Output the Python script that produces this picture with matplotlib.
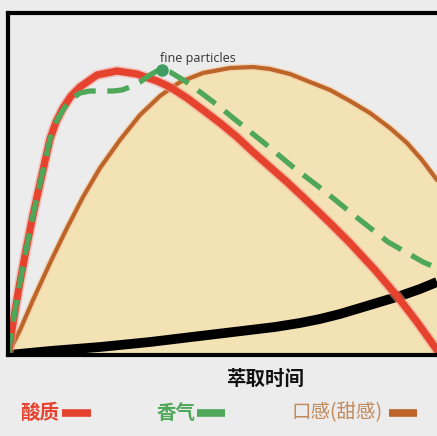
import matplotlib
matplotlib.use("Agg")
import matplotlib.pyplot as plt
from matplotlib.lines import Line2D

plt.rcParams['font.family'] = ['Noto Sans CJK SC', 'DejaVu Sans']

# extraction time (0-100) vs. intensity (0-100)
acid_x = [0, 0.93, 1.86, 2.80, 4.20, 5.83, 8.16, 9.79, 11.19, 12.82, 14.69, 16.78,
          20.75, 25.41, 30.07, 34.73, 37.76, 41.72, 45.45, 49.42, 53.38, 57.11,
          61.07, 65.03, 68.76, 75.06, 79.72, 85.55, 90.68, 95.34, 100]
acid_y = [0, 7.31, 14.62, 21.35, 30.70, 40.94, 54.09, 63.16, 68.13, 72.22, 75.73,
          78.36, 81.87, 83.04, 82.16, 80.12, 78.36, 75.15, 71.64, 67.84, 63.74,
          59.36, 54.97, 50.58, 46.20, 38.60, 32.75, 24.85, 17.25, 9.65, 1.46]

aroma_x = [0, 0.93, 1.86, 2.80, 4.20, 5.83, 8.16, 9.79, 11.19, 12.82, 14.45, 16.78,
           19.11, 21.45, 24.48, 26.57, 28.44, 30.77, 33.10, 34.73, 35.90, 37.76,
           41.26, 44.76, 48.48, 52.21, 55.94, 59.44, 66.43, 73.43, 80.89, 88.58,
           96.74, 100]
aroma_y = [0, 7.31, 14.62, 21.35, 30.70, 40.94, 54.09, 63.16, 68.13, 71.64, 74.56,
           76.61, 77.19, 77.19, 77.19, 77.49, 78.36, 79.82, 81.87, 83.04, 83.33,
           82.75, 80.12, 76.90, 73.39, 69.59, 65.79, 62.28, 54.97, 48.25, 40.64,
           33.04, 27.19, 25.44]

taste_x = [0, 1.40, 2.80, 5.83, 9.79, 13.52, 17.48, 21.45, 26.11, 30.77, 35.43,
           40.09, 45.45, 51.75, 57.11, 61.07, 65.73, 70.40, 75.06, 79.72, 84.38,
           89.04, 93.01, 96.50, 100]
taste_y = [0, 3.80, 7.31, 16.08, 26.90, 36.55, 46.20, 54.68, 62.87, 70.18, 75.73,
           79.82, 82.46, 83.92, 84.21, 83.63, 82.16, 79.82, 77.49, 74.27, 70.76,
           66.37, 61.99, 57.02, 51.17]

bitter_x = [0, 9.79, 21.45, 33.10, 44.76, 56.41, 62.24, 68.07, 72.73, 77.39,
            82.05, 86.71, 91.38, 96.04, 100]
bitter_y = [0, 1.17, 2.34, 3.80, 5.56, 7.31, 8.19, 9.36, 10.53, 11.99,
            13.74, 15.50, 17.25, 19.30, 21.35]

peak_x, peak_y = 35.90, 83.33
peak_label = "fine particles"
x_label = "萃取时间"
legend_names = ["酸质", "香气", "口感(甜感)"]

bg = "#ececec"
red = "#e6432f"
green = "#4fa75a"
orange = "#bd6429"
fill = "#f2e2b4"

fig = plt.figure(figsize=(4.37, 4.36), dpi=100, facecolor=bg)
ax = fig.add_axes([8 / 437, 1 - 355 / 436, 429 / 437, 342 / 436])
ax.set_facecolor(bg)
ax.set_xlim(0, 100)
ax.set_ylim(0, 100)

# sweetness area + outline
ax.fill_between(taste_x, taste_y, 0, color=fill, lw=0, zorder=1)
ax.plot(taste_x, taste_y, color="#f6c9a0", lw=5, alpha=0.6, zorder=2,
        solid_capstyle="round", solid_joinstyle="round")
ax.plot(taste_x, taste_y, color=orange, lw=3, zorder=3,
        solid_capstyle="round", solid_joinstyle="round")

# bitterness (black)
ax.plot(bitter_x, bitter_y, color="black", lw=7, zorder=4,
        solid_capstyle="butt", solid_joinstyle="round")

# acidity (red) with soft halo
ax.plot(acid_x, acid_y, color="#f59a8e", lw=7.5, alpha=0.5, zorder=5,
        solid_capstyle="round", solid_joinstyle="round")
ax.plot(acid_x, acid_y, color=red, lw=5.2, zorder=5,
        solid_capstyle="round", solid_joinstyle="round")

# aroma (green dashed), drawn over the red line
ax.plot(aroma_x, aroma_y, color=green, lw=3.8, dashes=(4.2, 2.2), zorder=6,
        dash_capstyle="butt", dash_joinstyle="round")
ax.plot(peak_x, peak_y, "o", ms=8, color="#3f9d62", zorder=7)
ax.text(peak_x - 0.4, peak_y + 3.3, peak_label, fontsize=9, color="#333333",
        family=["Open Sans", "DejaVu Sans"], ha="left", va="center", zorder=8)

ax.set_xticks([])
ax.set_yticks([])
ax.spines["right"].set_visible(False)
for side in ["left", "bottom", "top"]:
    ax.spines[side].set_linewidth(3)
    ax.spines[side].set_color("black")
    ax.spines[side].set_zorder(9)

fig.text(266 / 437, 1 - 379 / 436, x_label, fontsize=14, fontweight="bold",
         ha="center", va="center", color="#111111")

# legend row: name followed by a short bar
name_x = [20, 157, 292]
bar_x = [(62, 91), (197, 225), (389, 417)]
name_col = [red, green, "#c08a5c"]
bar_col = [red, green, orange]
weights = ["bold", "bold", "normal"]
ly = 1 - 413 / 436
for i in range(3):
    fig.text(name_x[i] / 437, ly, legend_names[i], fontsize=14, color=name_col[i],
             fontweight=weights[i], ha="left", va="center")
    fig.add_artist(Line2D([bar_x[i][0] / 437, bar_x[i][1] / 437], [ly, ly],
                          transform=fig.transFigure, color=bar_col[i], lw=5.5,
                          solid_capstyle="butt"))

fig.savefig("out.png", dpi=100, facecolor=bg)
